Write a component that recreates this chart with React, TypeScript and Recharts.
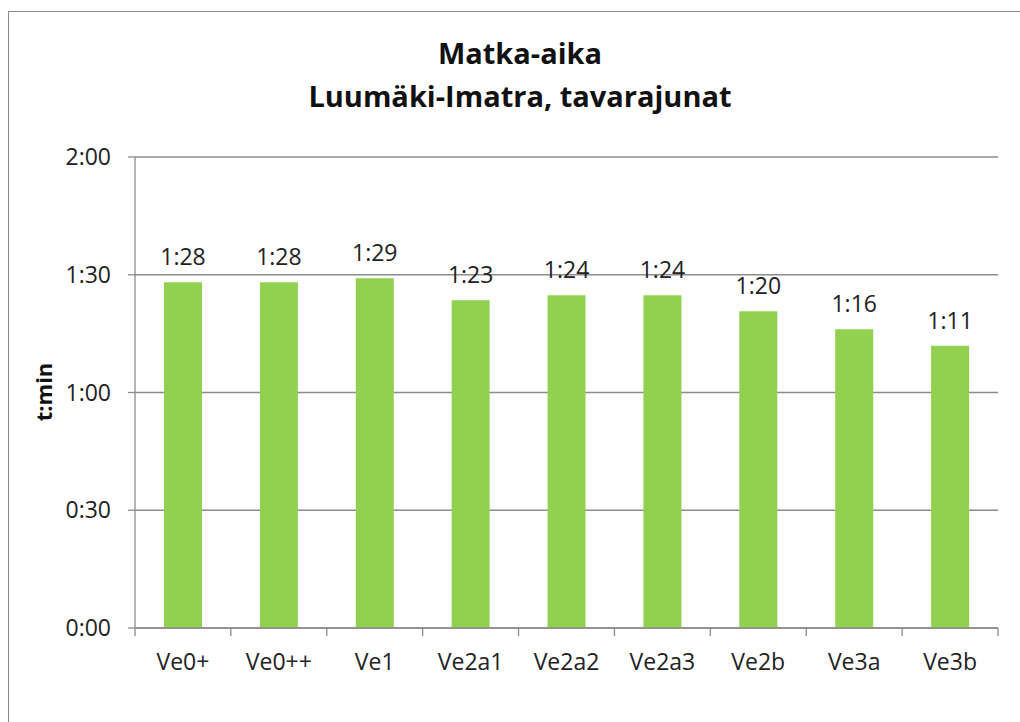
import { Bar, BarChart, CartesianGrid, LabelList, XAxis, YAxis } from "recharts";

const categories = ["Ve0+", "Ve0++", "Ve1", "Ve2a1", "Ve2a2", "Ve2a3", "Ve2b", "Ve3a", "Ve3b"];
// travel time in minutes
const minutes = [88.1, 88.1, 89.1, 83.5, 84.8, 84.8, 80.7, 76.1, 71.9];
const yTicks = [0, 30, 60, 90, 120];

const data = categories.map((name, i) => ({ name, value: minutes[i] }));

const FONT = "'Open Sans', sans-serif";
const AXIS = "#8c8c8c";
const GREEN = "#92d050";
const PLOT_LEFT = 135;
const PLOT_RIGHT = 998;
const BAND = (PLOT_RIGHT - PLOT_LEFT) / categories.length;

const fmt = (m: number) => {
  const whole = Math.floor(m);
  const h = Math.floor(whole / 60);
  const mm = whole % 60;
  return `${h}:${mm < 10 ? "0" : ""}${mm}`;
};

const CategoryTick = (props: any) => {
  const { x, y, payload, index } = props;
  const half = BAND / 2;
  return (
    <g>
      <line x1={x - half} y1={y} x2={x - half} y2={y + 8} stroke={AXIS} strokeWidth={1.3} />
      {index === categories.length - 1 && (
        <line x1={x + half} y1={y} x2={x + half} y2={y + 8} stroke={AXIS} strokeWidth={1.3} />
      )}
      <text x={x} y={y + 42} textAnchor="middle" fontSize={23} fontFamily={FONT} fill="#222">
        {payload.value}
      </text>
    </g>
  );
};

export default function App() {
  return (
    <div
      style={{
        position: "absolute",
        left: 0,
        top: 0,
        width: 1020,
        height: 722,
        overflow: "hidden",
        background: "#fff",
      }}
    >
      <div
        style={{
          position: "absolute",
          left: 8,
          top: 11,
          width: 1100,
          height: 800,
          border: "1.5px solid #8a8a8a",
        }}
      />
      <BarChart
        width={1020}
        height={722}
        data={data}
        margin={{ top: 157, right: 22, left: 75, bottom: 54 }}
        barSize={38}
        style={{ position: "absolute", left: 0, top: 0 }}
      >
        <CartesianGrid vertical={false} stroke={AXIS} strokeWidth={1.3} />
        <XAxis
          dataKey="name"
          height={40}
          axisLine={{ stroke: AXIS, strokeWidth: 1.3 }}
          tickLine={false}
          tickSize={0}
          tickMargin={0}
          interval={0}
          tick={<CategoryTick />}
        />
        <YAxis
          width={60}
          domain={[0, 120]}
          ticks={yTicks}
          tickFormatter={fmt}
          axisLine={{ stroke: AXIS, strokeWidth: 1.3 }}
          tickLine={{ stroke: AXIS, strokeWidth: 1.3 }}
          tickSize={7}
          tickMargin={17}
          tick={{ fontSize: 23, fontFamily: FONT, fill: "#222" }}
        />
        <Bar dataKey="value" fill={GREEN} isAnimationActive={false}>
          <LabelList
            dataKey="value"
            position="top"
            offset={17}
            formatter={(v: any) => fmt(Number(v))}
            style={{ fontSize: 23, fontFamily: FONT, fill: "#222" }}
          />
        </Bar>
      </BarChart>
      <svg
        width={1020}
        height={722}
        style={{ position: "absolute", left: 0, top: 0, pointerEvents: "none" }}
      >
        <text x={520} y={64} textAnchor="middle" fontSize={29} fontWeight="bold" fontFamily={FONT} fill="#111">
          Matka-aika
        </text>
        <text x={520} y={107} textAnchor="middle" fontSize={29} fontWeight="bold" fontFamily={FONT} fill="#111">
          Luumäki-Imatra, tavarajunat
        </text>
        <text
          transform="translate(43,392) rotate(-90)"
          textAnchor="middle"
          dominantBaseline="central"
          fontSize={22}
          fontWeight="bold"
          fontFamily={FONT}
          fill="#111"
        >
          t:min
        </text>
      </svg>
    </div>
  );
}
